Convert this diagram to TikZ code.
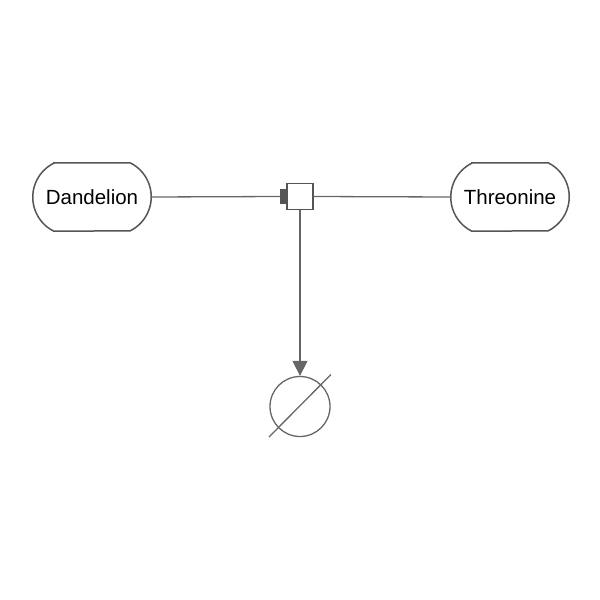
\documentclass[tikz,border=0pt]{standalone}
\usepackage{fontspec}
\setmainfont{Liberation Sans}
\usetikzlibrary{arrows.meta}
\definecolor{edgegray}{HTML}{666666}
\definecolor{nodegray}{HTML}{555555}
\begin{document}
\begin{tikzpicture}[x=1pt,y=-1pt,
  chem/.style={draw=none,minimum width=118pt,minimum height=68pt,inner sep=0pt,font=\fontsize{20.5}{23}\selectfont},
  chemborder/.style={draw=nodegray,line width=1.5pt},
  procbox/.style={draw=nodegray,line width=1.4pt,minimum size=26pt,inner sep=0pt,fill=white},
  conbar/.style={fill=nodegray,draw=none,minimum width=6pt,minimum height=15.5pt,inner sep=0pt},
  sinkc/.style={circle,draw=edgegray,line width=1.3pt,minimum size=60pt,inner sep=0pt},
  edge/.style={draw=edgegray,line width=1.3pt},
  prodarrow/.style={edge,-{Triangle[length=15pt,width=15pt]}}
]
\useasboundingbox (0,0) rectangle (600,600);
\node[chem] (d) at (92,197) {Dandelion};
\node[chem] (t) at (510,197) {Threonine};
\foreach \n in {d,t}{
  \draw[chemborder] ([xshift=21pt]\n.north west) -- ([xshift=-21pt]\n.north east)
    arc[start angle=63.5,end angle=-63.5,radius=38pt]
    -- ([xshift=21pt]\n.south west)
    arc[start angle=243.5,end angle=116.5,radius=38pt] -- cycle;
}
\node[procbox] (p) at (300,196.5) {};
\node[conbar] (bar) at (283,196.5) {};
\node[sinkc] (s) at (300,406.5) {};
\coordinate (sa) at (269,437);
\coordinate (sb) at (331,374.5);
\draw[edge] (d.east) -- (bar.west);
\draw[edge] (p.east) -- (t.west);
\draw[prodarrow] (p.south) -- (s.north);
\draw[edge] (sa) -- (sb);
\end{tikzpicture}
\end{document}
